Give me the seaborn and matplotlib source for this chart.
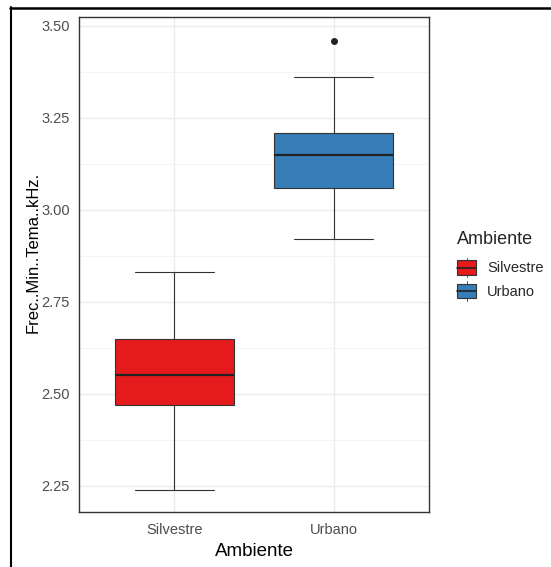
import numpy as np
import pandas as pd
import matplotlib
matplotlib.use('Agg')
import matplotlib.pyplot as plt
import seaborn as sns
from matplotlib.lines import Line2D
from matplotlib.patches import Rectangle
from matplotlib.legend_handler import HandlerBase

# valores (resumen de cada caja)
silvestre = [2.24, 2.40, 2.47, 2.50, 2.55, 2.60, 2.65, 2.75, 2.83]
urbano = [2.92, 3.00, 3.06, 3.10, 3.15, 3.18, 3.21, 3.36, 3.46]
categorias = ['Silvestre', 'Urbano']
colores = {'Silvestre': '#E41A1C', 'Urbano': '#377EB8'}
yticks = [2.25, 2.50, 2.75, 3.00, 3.25, 3.50]

df = pd.DataFrame({
    'Ambiente': ['Silvestre'] * len(silvestre) + ['Urbano'] * len(urbano),
    'Frec..Min..Tema..kHz.': silvestre + urbano,
})

sns.set_style('white')
plt.rcParams['font.family'] = ['Liberation Sans', 'DejaVu Sans']

fig = plt.figure(figsize=(5.51, 5.67), dpi=100)
ax = fig.add_axes([0.1434, 0.097, 0.6352, 0.873])

borde = '#333333'
sns.boxplot(data=df, x='Ambiente', y='Frec..Min..Tema..kHz.', hue='Ambiente',
            order=categorias, palette=colores, saturation=1, width=0.75,
            legend=False, linecolor=borde, linewidth=0.8, ax=ax,
            flierprops=dict(marker='o', markersize=4, markerfacecolor='#222222',
                            markeredgecolor='#222222'),
            medianprops=dict(color='#222222', linewidth=1.6),
            capwidths=0.5, zorder=3)

ax.set_xlim(-0.6, 1.6)
ax.set_ylim(2.179, 3.524)
ax.set_yticks(yticks)
ax.set_yticklabels([f'{v:.2f}' for v in yticks])
ax.set_yticks([2.375, 2.625, 2.875, 3.125, 3.375], minor=True)
ax.grid(True, which='major', color='#EBEBEB', linewidth=1.0, zorder=0)
ax.grid(True, which='minor', axis='y', color='#F2F2F2', linewidth=0.6, zorder=0)
ax.set_axisbelow(True)
for s in ax.spines.values():
    s.set_color(borde)
    s.set_linewidth(1.0)
ax.tick_params(axis='both', which='major', length=3.5, width=0.8, color=borde,
               labelsize=10.5, labelcolor='#4D4D4D', direction='out', pad=3)
ax.tick_params(axis='x', which='major', pad=4.5)
ax.tick_params(axis='y', which='minor', length=0)
ax.set_xlabel('Ambiente', fontsize=13.5, color='black')
ax.set_ylabel('Frec..Min..Tema..kHz.', fontsize=12, color='black')
ax.xaxis.set_label_coords(0.5, -0.062)
ax.yaxis.set_label_coords(-0.11, 0.525)


class HandlerCaja(HandlerBase):
    def create_artists(self, legend, orig_handle, xdescent, ydescent,
                       width, height, fontsize, trans):
        color = orig_handle.get_facecolor()
        cx = -xdescent + width / 2
        w = width
        h = height * 0.76
        y0 = -ydescent + (height - h) / 2
        caja = Rectangle((cx - w / 2, y0), w, h, facecolor=color,
                         edgecolor=borde, linewidth=0.8, transform=trans)
        med = Line2D([cx - w / 2, cx + w / 2], [y0 + h / 2, y0 + h / 2],
                     color='#222222', linewidth=1.2, transform=trans)
        b1 = Line2D([cx, cx], [y0 + h, -ydescent + height * 1.03],
                    color=borde, linewidth=0.6, transform=trans)
        b2 = Line2D([cx, cx], [y0, -ydescent - height * 0.03],
                    color=borde, linewidth=0.6, transform=trans)
        return [b1, b2, caja, med]


handles = [Rectangle((0, 0), 1, 1, facecolor=colores[c]) for c in categorias]
leg = fig.legend(handles, categorias, title='Ambiente',
                 handler_map={Rectangle: HandlerCaja()},
                 loc='upper left', bbox_to_anchor=(0.8295, 0.593),
                 frameon=False, fontsize=10.5, title_fontsize=13,
                 handlelength=1.3, handleheight=1.6, handletextpad=0.75,
                 labelspacing=0.32, borderpad=0, borderaxespad=0)
leg._legend_box.align = 'left'
leg._legend_box.sep = 7.5

# marco negro del recorte original
fig.add_artist(Line2D([10 / 551, 1], [1 - 7.5 / 567, 1 - 7.5 / 567],
                      color='black', linewidth=1.8, transform=fig.transFigure))
fig.add_artist(Line2D([10.5 / 551, 10.5 / 551], [0, 1 - 7 / 567],
                      color='black', linewidth=1.5, transform=fig.transFigure))

fig.savefig('out.png', dpi=100)
